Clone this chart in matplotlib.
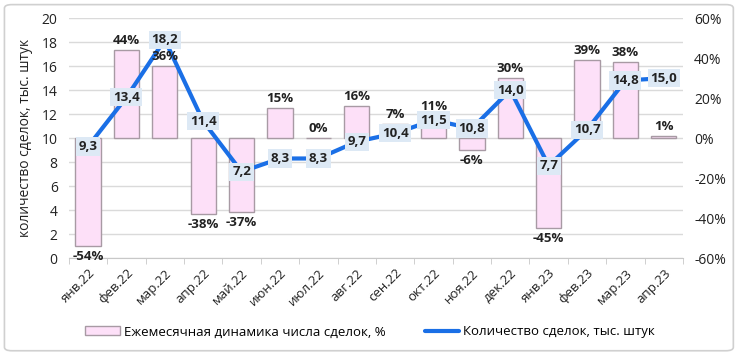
import numpy as np
import matplotlib.pyplot as plt
from matplotlib.patches import FancyBboxPatch

plt.rcParams['font.family'] = ['Open Sans', 'DejaVu Sans']

# Data
months = ['янв.22', 'фев.22', 'мар.22', 'апр.22', 'май.22', 'июн.22', 'июл.22', 'авг.22',
          'сен.22', 'окт.22', 'ноя.22', 'дек.22', 'янв.23', 'фев.23', 'мар.23', 'апр.23']
deals = [9.3, 13.4, 18.2, 11.4, 7.2, 8.3, 8.3, 9.7, 10.4, 11.5, 10.8, 14.0, 7.7, 10.7, 14.8, 15.0]
change_pct = [-54, 44, 36, -38, -37, 15, 0, 16, 7, 11, -6, 30, -45, 39, 38, 1]

bar_label = 'Ежемесячная динамика числа сделок, %'
line_label = 'Количество сделок, тыс. штук'

text_color = '#222222'
x = np.arange(len(months))

fig = plt.figure(figsize=(7.4, 3.55), dpi=100)
fig.patches.append(FancyBboxPatch((0.006, 0.012), 0.985, 0.975, boxstyle='round,pad=0,rounding_size=0.01',
                                  transform=fig.transFigure, fill=False, edgecolor='#d0d0d0', lw=1.2))
ax = fig.add_axes([0.093, 0.273, 0.83, 0.676])
ax2 = ax.twinx()

# bars on the percent axis
ax2.bar(x, change_pct, width=0.66, color='#fde0f8', edgecolor='#a89aa4', linewidth=1, zorder=2, label=bar_label)
ax2.set_ylim(-60, 60)
ax2.set_yticks(range(-60, 61, 20))
ax2.set_yticklabels([f'{v}%' for v in range(-60, 61, 20)])

# line on the count axis (drawn on top)
ax.set_zorder(ax2.get_zorder() + 1)
ax.patch.set_visible(False)
ax.plot(x, deals, color='#1a6fe6', lw=3, solid_joinstyle='round', solid_capstyle='round', zorder=4, label=line_label)
for xi, v in zip(x, deals):
    ax.text(xi, v, f'{v:.1f}'.replace('.', ','), ha='center', va='center', fontsize=9.5, fontweight='bold',
            color=text_color, zorder=6,
            bbox=dict(boxstyle='square,pad=0.2', facecolor='#dde9f5', edgecolor='none'))

# bar labels (placed in count-axis units: 0% sits at 10)
for xi, v in zip(x, change_pct):
    y = 10 + v / 6
    if v >= 0:
        ax.annotate(f'{v}%', (xi, y), xytext=(0, 2), textcoords='offset points', ha='center', va='bottom',
                    fontsize=9.5, fontweight='bold', color=text_color, zorder=5)
    else:
        ax.annotate(f'{v}%', (xi, y), xytext=(0, -3), textcoords='offset points', ha='center', va='top',
                    fontsize=9.5, fontweight='bold', color=text_color, zorder=5)

ax.set_ylim(0, 20)
ax.set_yticks(range(0, 21, 2))
ax.set_xlim(-0.5, len(months) - 0.5)
ax.set_xticks(x)
ax.set_xticklabels(months, rotation=45, ha='right', rotation_mode='anchor')
ax.set_xticks(np.arange(-0.5, len(months), 1), minor=True)
ax.tick_params(axis='x', which='major', length=0, pad=6, labelsize=9.5, colors=text_color)
ax.tick_params(axis='x', which='minor', length=4, color='#c8c8c8')
ax.tick_params(axis='y', length=0, labelsize=10, colors=text_color, pad=8)
ax2.tick_params(axis='y', length=0, labelsize=10, colors=text_color, pad=8)
ax.set_ylabel('количество сделок, тыс. штук', fontsize=10, color=text_color, labelpad=6)

ax2.grid(False)
for v in range(0, 21, 2):
    ax2.axhline(-60 + v * 6, color='#dadada', lw=1, zorder=0)

for a in (ax, ax2):
    for s in a.spines.values():
        s.set_visible(False)
ax2.spines['bottom'].set_visible(True)
ax2.spines['bottom'].set_color('#c8c8c8')

h1, l1 = ax2.get_legend_handles_labels()
h2, l2 = ax.get_legend_handles_labels()
fig.legend(h1 + h2, l1 + l2, loc='center', bbox_to_anchor=(0.5, 0.065), ncol=2, frameon=False,
           fontsize=9.5, handlelength=2.6, columnspacing=3, handletextpad=0.3)

plt.savefig('out.png', dpi=100)
plt.close()
